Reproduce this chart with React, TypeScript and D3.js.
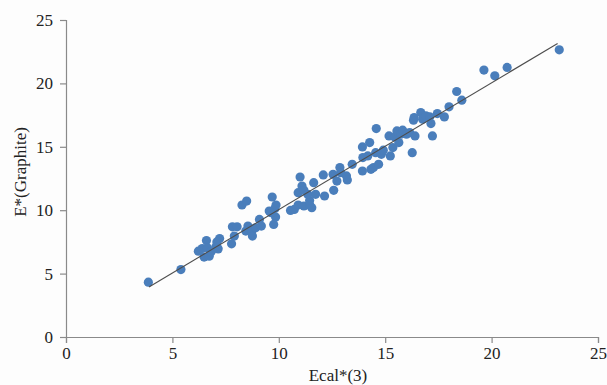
import { useRef, useEffect } from 'react';
import * as d3 from 'd3';

// Ecal*(3) values (x) and E*(Graphite) values (y)
const ecal = [
  3.87, 5.4, 6.22, 6.4, 6.6, 6.49, 6.73, 6.64, 6.82, 7.04,
  7.15, 7.22, 7.09, 7.78, 7.82, 8.04, 7.91, 8.27, 8.49, 8.55,
  8.45, 8.73, 8.76, 8.91, 9.09, 9.18, 9.55, 9.69, 9.82, 9.87,
  9.85, 9.76, 9.64, 10.55, 10.73, 11.0, 10.91, 11.09, 11.18, 10.91,
  11.18, 11.45, 11.45, 11.36, 11.64, 11.73, 11.55, 12.15, 12.09, 12.58,
  12.55, 12.73, 12.87, 12.91, 13.18, 13.22, 13.45, 13.93, 13.93, 13.95,
  14.27, 14.18, 14.33, 14.45, 14.58, 14.55, 14.69, 14.82, 14.91, 15.18,
  15.24, 15.36, 15.45, 15.55, 15.64, 15.73, 15.82, 16.0, 16.15, 16.27,
  16.33, 16.36, 16.4, 16.67, 16.76, 16.91, 17.09, 17.15, 17.22, 17.45,
  17.78, 18.0, 18.36, 18.6, 19.64, 20.15, 20.73, 23.18,
];
const graphite = [
  4.32, 5.32, 6.77, 6.98, 7.61, 6.3, 6.37, 7.03, 6.72, 7.09,
  6.95, 7.77, 7.5, 7.35, 8.69, 8.69, 7.96, 10.41, 10.72, 8.75,
  8.35, 8.35, 7.96, 8.61, 9.27, 8.75, 9.93, 11.04, 10.14, 10.41,
  9.46, 8.88, 9.8, 9.98, 10.06, 12.62, 11.38, 11.91, 11.57, 10.41,
  10.33, 10.41, 10.77, 11.25, 12.17, 11.25, 10.2, 11.12, 12.78, 11.57,
  12.83, 12.3, 13.36, 12.96, 12.7, 12.38, 13.62, 13.09, 14.99, 14.15,
  15.33, 14.28, 13.22, 13.36, 16.44, 14.54, 13.62, 14.41, 14.73, 15.86,
  14.28, 14.94, 15.78, 16.25, 15.33, 15.99, 16.31, 15.99, 16.12, 14.54,
  17.1, 17.31, 15.86, 17.7, 17.18, 17.44, 17.36, 16.83, 15.86, 17.62,
  17.36, 18.15, 19.36, 18.68, 21.05, 20.6, 21.26, 22.65,
];
// fitted line end points
const fitLine = [
  [3.9, 3.95],
  [23.1, 23.15],
];
const ticks = [0, 5, 10, 15, 20, 25];

function App() {
  const svgRef = useRef(null);

  useEffect(() => {
    const width = 607;
    const height = 385;
    const margin = { top: 20, right: 9, bottom: 48, left: 66 };
    const innerWidth = width - margin.left - margin.right;
    const innerHeight = height - margin.top - margin.bottom;
    const font = '"Liberation Serif", "DejaVu Serif", serif';

    const root = d3.select(svgRef.current);
    root.selectAll('*').remove();
    root.attr('width', width).attr('height', height);

    const svg = root.append('g')
      .attr('transform', `translate(${margin.left},${margin.top})`);

    const x = d3.scaleLinear().domain([0, 25]).range([0, innerWidth]);
    const y = d3.scaleLinear().domain([0, 25]).range([innerHeight, 0]);

    const xAxis = svg.append('g')
      .attr('transform', `translate(0,${innerHeight})`)
      .call(d3.axisBottom(x).tickValues(ticks).tickSize(6).tickPadding(4));
    const yAxis = svg.append('g')
      .call(d3.axisLeft(y).tickValues(ticks).tickSize(6).tickPadding(7));

    [xAxis, yAxis].forEach(ax => {
      ax.attr('font-family', font).attr('font-size', 17);
      ax.selectAll('path, line').attr('stroke', '#8a8a8a').attr('stroke-width', 1.2);
      ax.selectAll('text')
        .attr('fill', '#222')
        .attr('font-family', font)
        .attr('font-size', 17);
    });

    const line = d3.line()
      .x(d => x(d[0]))
      .y(d => y(d[1]));

    svg.selectAll('circle')
      .data(ecal.map((v, i) => [v, graphite[i]]))
      .enter()
      .append('circle')
      .attr('cx', d => x(d[0]))
      .attr('cy', d => y(d[1]))
      .attr('r', 4.6)
      .attr('fill', '#4a7ebb');

    svg.append('path')
      .datum(fitLine)
      .attr('fill', 'none')
      .attr('stroke', '#4d4d4d')
      .attr('stroke-width', 1.1)
      .attr('d', line);

    svg.append('text')
      .attr('x', innerWidth / 2 + 6)
      .attr('y', innerHeight + 44)
      .attr('text-anchor', 'middle')
      .attr('fill', '#222')
      .attr('font-family', font)
      .attr('font-size', 17)
      .text('Ecal*(3)');

    svg.append('text')
      .attr('transform', `translate(${20 - margin.left},${152}) rotate(-90)`)
      .attr('text-anchor', 'middle')
      .attr('dy', '0.35em')
      .attr('fill', '#222')
      .attr('font-family', font)
      .attr('font-size', 17)
      .text('E*(Graphite)');
  }, []);

  return (
    <div style={{ position: 'absolute', left: 0, top: 0, background: '#fdfdfd' }}>
      <svg ref={svgRef} style={{ display: 'block' }}></svg>
    </div>
  );
}

export default App;
